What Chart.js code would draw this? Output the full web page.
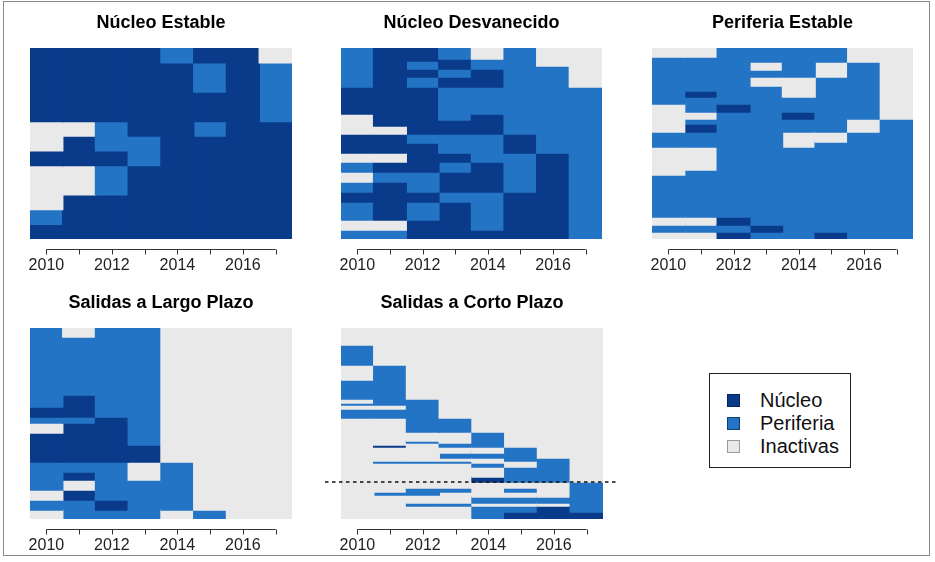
<!DOCTYPE html>
<html><head><meta charset="utf-8">
<script src="https://cdn.jsdelivr.net/npm/chart.js@4.4.1/dist/chart.umd.min.js"></script>
<style>
html,body{margin:0;padding:0;background:#fff;}
body{width:935px;height:562px;position:relative;overflow:hidden;font-family:"Liberation Sans",Arial,sans-serif;}
#frame{position:absolute;left:3px;top:1px;width:927px;height:555px;border:1px solid #8a8a8a;box-sizing:border-box;}
.panel{position:absolute;}
#legend{position:absolute;left:709px;top:373px;width:142px;height:95px;border:1px solid #222;box-sizing:border-box;background:#fff;}
.item{position:absolute;left:17px;height:24px;font-size:20px;line-height:24px;color:#111;}
.sw{position:absolute;left:0;top:6px;width:11px;height:11px;border:1px solid #333;}
.item span{position:absolute;left:33px;top:0;white-space:nowrap;}
</style></head>
<body>
<div id="frame"></div>
<div id="legend"></div>
<script>
// ---- data ----
const years = ['2010','2011','2012','2013','2014','2015','2016','2017'];
const estadoCodes = ['N','P','I'];
const estadoLabels = ['Núcleo','Periferia','Inactivas'];
const colores = {N:'#0a3a8a', P:'#2474c6', I:'#e9e9e9'};
const bordes = {N:'#05245a', P:'#10406e', I:'#9a9a9a'};

const titulos = ['Núcleo Estable','Núcleo Desvanecido','Periferia Estable','Salidas a Largo Plazo','Salidas a Corto Plazo'];

const estableSeq = ['NNNNPNNI','NNNNNPNP','NNNNNNNP','IIPNNPNN','INPPNNNN','NNNPNNNN','IIPNNNNN','INNNNNNN','PNNNNNNN','NNNNNNNN'];
const estableFreq = [1,2,2,1,1,1,2,1,1,1];

const desvanecidoSeq = ['PNNPIPII','PNNNPPII','PNPNPPII','PNPNPPPI','PNNPNPPI','PNPNNPPI','NNNPPPPP','INNPNPPP','INNNNPPP','IINNNPPP','NNPPPNPP','NNNPPNPP','IINNPPNP','PNNPNPNP','IPPNNPNP','PNPNNPNP','NNNPPNNP','PNPNPNNP','IINNPNNP','PPNNNNNP'];
const desvanecidoFreq = [11,2,5,3,8,10,27,6,6,8,9,10,9,10,10,10,10,18,10,9];

const periferiaSeq = ['IIPPPPII','PPPPPPII','PPPIPIPI','PPPPPIPI','PPPIIPPI','PPPPIPPI','PNPPIPPI','PPPPPPPI','IPNPPPPI','IIPPNPPI','IPPPPPIP','INPPPPIP','PPPPIIPP','PPPPIPPP','IIPPPPPP','IPPPPPPP','PPPPPPPP','IINPPPPP','PPPNPPPP','IINPPNPP'];
const periferiaFreq = [9,5,8,7,9,5,6,7,8,7,5,8,10,5,23,5,42,8,7,7];

const largoSeq = ['PIPPIIII','PPPPIIII','PNPPIIII','NNPPIIII','PPNPIIII','INNPIIII','NNNPIIII','NNNNIIII','PPPIPIII','PNPIPIII','PIPPPIII','INPPPIII','PPNPPIII','IPPPIPII'];
const largoFreq = [9,58,12,10,6,10,12,17,10,8,10,10,10,9];

const cortoSeq = ['IIIIIIII','PIIIIIII','IPIIIIII','PPIIIIII','IPPIIIII','PPPIIIII','IIPIIIII','PPPIIIII','IIPPIIII','IIIIPIII','IIPIPIII','IIIPPIII','INIPPIII','IIIIIPII','IIIPPPII','IIIIIPPI','IPPPIIPI','IIIIPIPI','IIIIIPPI','IIIINPPI','IIIIIIIP','IIPPIPIP','IPPIIIIP','IIIIIIIP','IIIIPPPP','IIPPIIIP','IIIIPPNP','IIIIPNNN'];
const cortoFreq = [17,20,15,19,4,2,4,9,14,9,2,2,2,6,5,3,2,4,10,5,6,4,3,2,6,3,6,7];
const cortoCorte = 154; // boundary between the two groups (dashed line)

// ---- layout (positions only) ----
const panels = [
  {seq:estableSeq, freq:estableFreq, left:30, top:48, w:262, h:191},
  {seq:desvanecidoSeq, freq:desvanecidoFreq, left:341, top:48, w:261, h:191},
  {seq:periferiaSeq, freq:periferiaFreq, left:652, top:48, w:261, h:191},
  {seq:largoSeq, freq:largoFreq, left:30, top:328, w:262, h:191},
  {seq:cortoSeq, freq:cortoFreq, left:341, top:328, w:262, h:191, corte:cortoCorte}
];

Chart.defaults.font.family = "'Liberation Sans', Arial, sans-serif";

function buildDatasets(seqs, freqs){
  const runsPerCol = years.map((_, c) => {
    const runs = []; let pos = 0;
    seqs.forEach((s, i) => {
      const st = s[c], f = freqs[i];
      const last = runs[runs.length - 1];
      if (last && last.st === st && last.end === pos) last.end += f;
      else runs.push({st, start: pos, end: pos + f});
      pos += f;
    });
    return runs;
  });
  const maxRuns = Math.max(...runsPerCol.map(r => r.length));
  const ds = [];
  for (let k = 0; k < maxRuns; k++) {
    ds.push({
      data: runsPerCol.map(r => r[k] ? [r[k].start, r[k].end] : null),
      backgroundColor: runsPerCol.map(r => r[k] ? colores[r[k].st] : 'rgba(0,0,0,0)'),
      borderWidth: 0, grouped: false, categoryPercentage: 1, barPercentage: 1,
      inflateAmount: 0.7
    });
  }
  return ds;
}

const axisPlugin = {
  id: 'rAxis',
  afterDraw(chart) {
    const xs = chart.scales.x, ctx = chart.ctx;
    const y = Math.round(chart.chartArea.bottom + 10) + 0.5;
    const x0 = xs.getPixelForValue(0), x1 = xs.getPixelForValue(years.length - 1);
    ctx.save();
    ctx.strokeStyle = '#333'; ctx.lineWidth = 1;
    ctx.beginPath(); ctx.moveTo(x0, y); ctx.lineTo(x1, y);
    for (let i = 0; i < years.length; i++) {
      const x = Math.round(xs.getPixelForValue(i)) + 0.5;
      ctx.moveTo(x, y); ctx.lineTo(x, y + 5);
    }
    ctx.stroke();
    const corte = chart.options.plugins.rAxis && chart.options.plugins.rAxis.corte;
    if (corte != null) {
      const yy = chart.scales.y.getPixelForValue(corte);
      ctx.setLineDash([3.5, 3.5]); ctx.lineWidth = 1.4; ctx.strokeStyle = '#111';
      ctx.beginPath(); ctx.moveTo(chart.chartArea.left - 16, yy); ctx.lineTo(chart.chartArea.right + 14, yy); ctx.stroke();
    }
    ctx.restore();
  }
};

panels.forEach((p, idx) => {
  const padX = 20, topH = 40, botH = 38;
  const div = document.createElement('div');
  div.className = 'panel';
  div.style.left = (p.left - padX) + 'px';
  div.style.top = (p.top - topH) + 'px';
  div.style.width = (p.w + 2 * padX) + 'px';
  div.style.height = (p.h + topH + botH) + 'px';
  const cv = document.createElement('canvas');
  div.appendChild(cv);
  document.body.appendChild(div);
  const total = p.freq.reduce((a, b) => a + b, 0);
  new Chart(cv, {
    type: 'bar',
    data: {labels: years, datasets: buildDatasets(p.seq, p.freq)},
    options: {
      responsive: true, maintainAspectRatio: false, animation: false,
      layout: {padding: {left: padX, right: padX, top: 0, bottom: 0}},
      plugins: {
        legend: {display: false}, tooltip: {enabled: false},
        title: {display: true, text: titulos[idx], color: '#000',
          font: {size: 18, weight: 'bold'}, padding: {top: 4, bottom: 14.4}},
        rAxis: {corte: p.corte}
      },
      scales: {
        x: {
          type: 'category', offset: true,
          grid: {display: false, drawTicks: false},
          border: {display: false},
          ticks: {autoSkip: false, maxRotation: 0, padding: 17, color: '#222', font: {size: 16},
            callback: (v, i) => (i % 2 === 0 ? years[i] : '')},
          afterFit: s => { s.height = botH; }
        },
        y: {type: 'linear', min: 0, max: total, reverse: true, display: false}
      }
    },
    plugins: [axisPlugin]
  });
});

// legend
const leg = document.getElementById('legend');
estadoCodes.forEach((c, i) => {
  const it = document.createElement('div');
  it.className = 'item';
  it.style.top = (14 + i * 23) + 'px';
  const sw = document.createElement('div');
  sw.className = 'sw';
  sw.style.background = colores[c];
  sw.style.borderColor = bordes[c];
  const sp = document.createElement('span');
  sp.textContent = estadoLabels[i];
  it.appendChild(sw); it.appendChild(sp);
  leg.appendChild(it);
});
</script>
</body></html>
